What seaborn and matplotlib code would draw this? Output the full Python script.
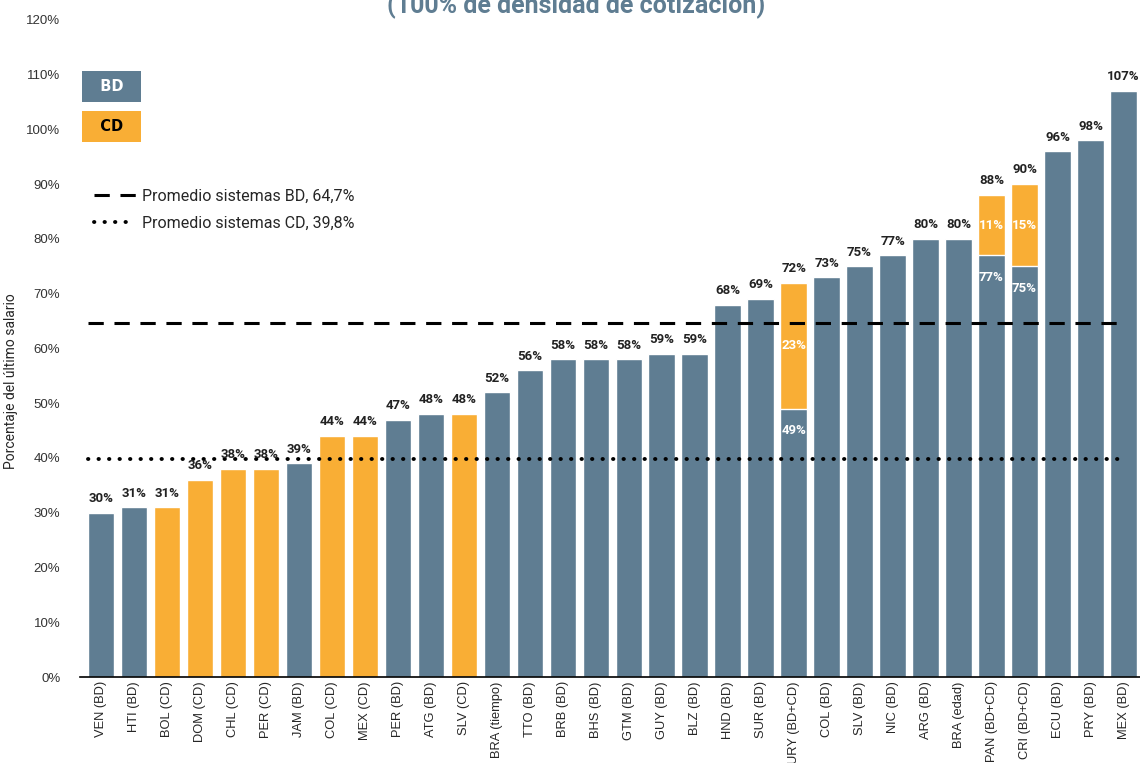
import matplotlib
matplotlib.use("Agg")

import matplotlib.pyplot as plt
import numpy as np
import pandas as pd
import seaborn as sns
from matplotlib.lines import Line2D

# ── Data ───────────────────────────────────────────────────────────────
countries = [
    "VEN (BD)", "HTI (BD)", "BOL (CD)", "DOM (CD)", "CHL (CD)", "PER (CD)",
    "JAM (BD)", "COL (CD)", "MEX (CD)", "PER (BD)", "ATG (BD)", "SLV (CD)",
    "BRA (tiempo)", "TTO (BD)", "BRB (BD)", "BHS (BD)", "GTM (BD)", "GUY (BD)",
    "BLZ (BD)", "HND (BD)", "SUR (BD)", "URY (BD+CD)", "COL (BD)", "SLV (BD)",
    "NIC (BD)", "ARG (BD)", "BRA (edad)", "PAN (BD+CD)", "CRI (BD+CD)",
    "ECU (BD)", "PRY (BD)", "MEX (BD)",
]
system = [
    "BD", "BD", "CD", "CD", "CD", "CD",
    "BD", "CD", "CD", "BD", "BD", "CD",
    "BD", "BD", "BD", "BD", "BD", "BD",
    "BD", "BD", "BD", "BD+CD", "BD", "BD",
    "BD", "BD", "BD", "BD+CD", "BD+CD",
    "BD", "BD", "BD",
]
# benefit (% of last salary) from the BD part and from the CD part
bd_part = [30, 31, 0, 0, 0, 0, 39, 0, 0, 47, 48, 0, 52, 56, 58, 58, 58, 59,
           59, 68, 69, 49, 73, 75, 77, 80, 80, 77, 75, 96, 98, 107]
cd_part = [0, 0, 31, 36, 38, 38, 0, 44, 44, 0, 0, 48, 0, 0, 0, 0, 0, 0,
           0, 0, 0, 23, 0, 0, 0, 0, 0, 11, 15, 0, 0, 0]
top_labels = [30, 31, 31, 36, 38, 38, 39, 44, 44, 47, 48, 48, 52, 56, 58, 58, 58, 59,
              59, 68, 69, 72, 73, 75, 77, 80, 80, 88, 90, 96, 98, 107]

avg_bd = 64.7
avg_cd = 39.8

BLUE = "#5f7d92"
ORANGE = "#f9ae35"

df = pd.DataFrame({"pais": countries, "sistema": system, "bd": bd_part, "cd": cd_part})
df["total"] = df["bd"] + df["cd"]
df["bd_mixed"] = np.where(df["sistema"] == "BD+CD", df["bd"], np.nan)

# ── Plot ───────────────────────────────────────────────────────────────
sns.set_style("white")
plt.rcParams["font.family"] = ["Liberation Sans", "DejaVu Sans"]

fig = plt.figure(figsize=(11.4, 7.63), dpi=100)
ax = fig.add_axes([0.070, 0.1127, 0.93, 0.8613])

sns.barplot(data=df, x="pais", y="total", hue="sistema", order=countries,
            palette={"BD": BLUE, "CD": ORANGE, "BD+CD": ORANGE},
            dodge=False, width=0.8, saturation=1, legend=False, ax=ax)
sns.barplot(data=df, x="pais", y="bd_mixed", order=countries, color=BLUE,
            width=0.8, saturation=1, ax=ax)

ax.set_xlim(-0.64, 31.5)
ax.set_ylim(0, 120)
ax.set_yticks(np.arange(0, 121, 10))
ax.set_yticklabels([f"{v}%" for v in range(0, 121, 10)], fontsize=9.5, color="#333333")
ax.tick_params(axis="y", length=0, pad=14)
ax.tick_params(axis="x", length=0, pad=3)
ax.set_xticks(range(len(countries)))
ax.set_xticklabels(countries, rotation=90, fontsize=9.3)
ax.set_xlabel("")
ax.set_ylabel("Porcentaje del último salario", fontsize=10, family="Roboto")
ax.yaxis.set_label_coords(-0.0585, 0.45)

for side in ["top", "right", "left"]:
    ax.spines[side].set_visible(False)
ax.spines["bottom"].set_color("black")
ax.spines["bottom"].set_linewidth(1.2)

# average lines
ax.hlines(avg_bd, -0.4, 31.0, colors="black", linestyles=(0, (5, 3.5)), linewidth=2.2)
ax.hlines(avg_cd, -0.4, 31.05, colors="black", linestyles=(0, (0.1, 2.6)),
          linewidth=2.8, capstyle="round")

# value labels
for i, (lab, tot) in enumerate(zip(top_labels, df["total"])):
    ax.text(i, tot + 1.4, f"{lab}%", ha="center", va="bottom", fontsize=9.5,
            fontweight="bold", family="Roboto", color="#222222")
for i, row in df.iterrows():
    if row["sistema"] == "BD+CD":
        ax.text(i, row["bd"] + row["cd"] / 2, f"{row['cd']}%", ha="center",
                va="center", fontsize=9.5, fontweight="bold", family="Roboto",
                color="white")
        ax.text(i, row["bd"] - 4, f"{row['bd']}%", ha="center", va="center",
                fontsize=9.5, fontweight="bold", family="Roboto", color="white")

# BD / CD boxes
ax.text(0.32, 107.8, "  BD  ", ha="center", va="center", fontsize=10.5,
        fontweight="bold", color="white", family="DejaVu Sans",
        bbox=dict(boxstyle="square,pad=0.55", fc=BLUE, ec="none"))
ax.text(0.32, 100.5, "  CD  ", ha="center", va="center", fontsize=10.5,
        fontweight="bold", color="black", family="DejaVu Sans",
        bbox=dict(boxstyle="square,pad=0.55", fc=ORANGE, ec="none"))

handles = [
    Line2D([], [], color="black", linestyle=(0, (5, 3.5)), linewidth=2.2),
    Line2D([], [], color="black", linestyle=(0, (0.1, 2.6)), linewidth=2.8,
           dash_capstyle="round"),
]
leg = ax.legend(handles, ["Promedio sistemas BD, 64,7%", "Promedio sistemas CD, 39,8%"],
                loc="upper left", bbox_to_anchor=(0.0, 0.765), frameon=False,
                handlelength=2.6, handletextpad=0.4, labelspacing=0.75,
                prop={"family": "Roboto", "size": 11.5})

# clipped title at the top edge
fig.text(0.505, 0.992, "(100% de densidad de cotización)", ha="center", va="center",
         fontsize=18, fontweight="bold", color=BLUE, family="Roboto")

fig.savefig("out.png", dpi=100)
